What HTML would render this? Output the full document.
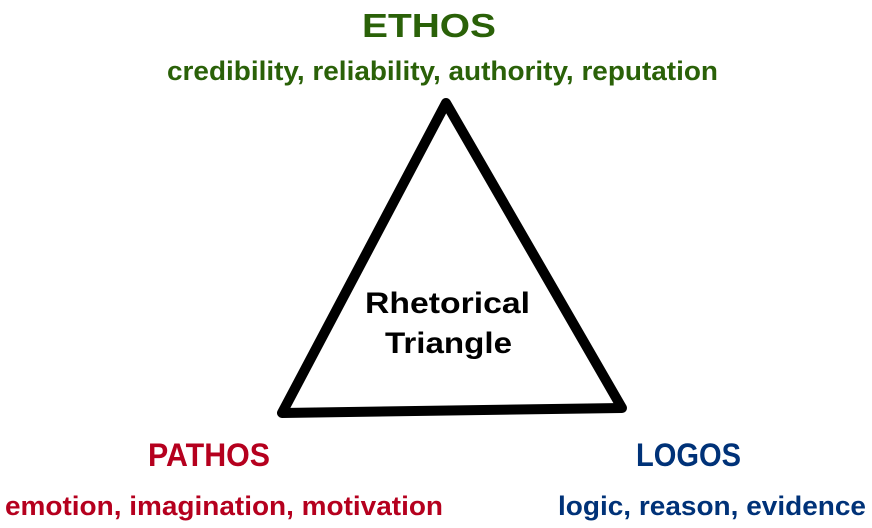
<!DOCTYPE html>
<html><head><style>
html,body{margin:0;padding:0;background:#fff;}
svg{display:block;font-family:"Liberation Sans",Arial,sans-serif;font-weight:bold;}
</style></head><body>
<svg width="872" height="528" viewBox="0 0 872 528">
<polygon points="446,103 282,413 622,408" fill="none" stroke="#000" stroke-width="10" stroke-linejoin="round"/>
<text x="362" y="37" font-size="33" fill="#2a6108" textLength="134" lengthAdjust="spacingAndGlyphs">ETHOS</text>
<text x="167" y="80" font-size="27" fill="#2a6108" textLength="551" lengthAdjust="spacingAndGlyphs">credibility, reliability, authority, reputation</text>
<text x="365" y="313" font-size="30" fill="#000" textLength="165" lengthAdjust="spacingAndGlyphs">Rhetorical</text>
<text x="385" y="353" font-size="30" fill="#000" textLength="127" lengthAdjust="spacingAndGlyphs">Triangle</text>
<text x="148" y="466" font-size="32" fill="#b5001e" textLength="122" lengthAdjust="spacingAndGlyphs">PATHOS</text>
<text x="5" y="515" font-size="27" fill="#b5001e" textLength="438" lengthAdjust="spacingAndGlyphs">emotion, imagination, motivation</text>
<text x="636" y="466" font-size="32" fill="#003278" textLength="105" lengthAdjust="spacingAndGlyphs">LOGOS</text>
<text x="558" y="515" font-size="27" fill="#003278" textLength="308" lengthAdjust="spacingAndGlyphs">logic, reason, evidence</text>
</svg>
</body></html>
